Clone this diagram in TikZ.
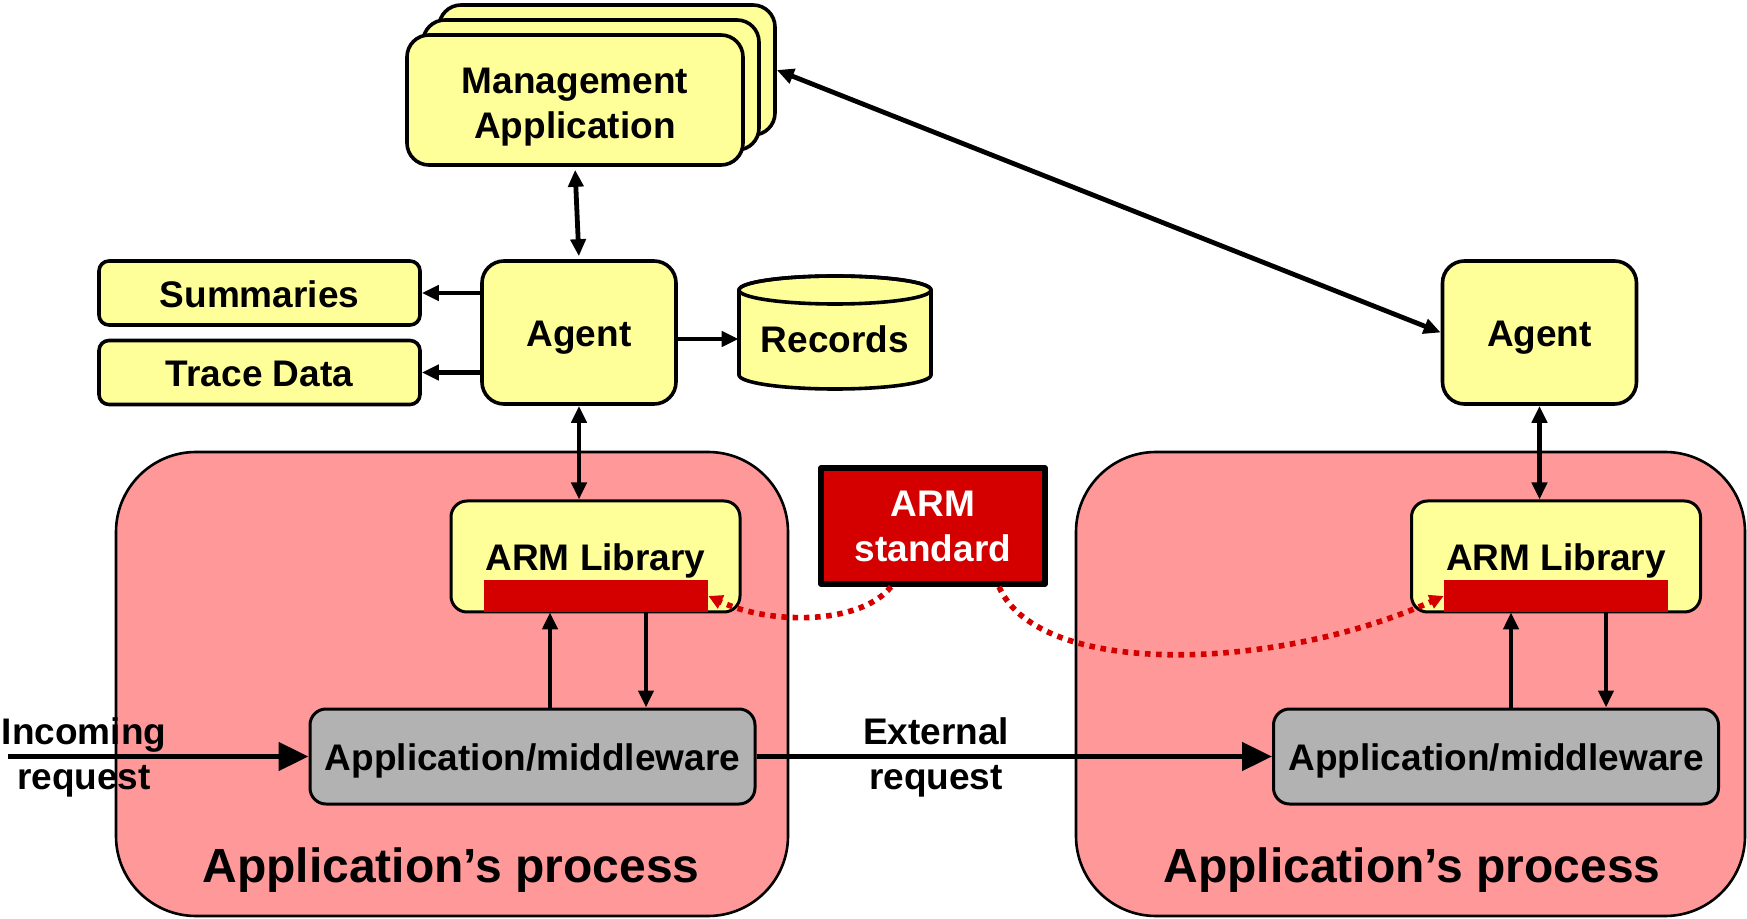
\documentclass[tikz,border=0pt]{standalone}
\usepackage{fontspec}
\setmainfont{Liberation Sans}
\usetikzlibrary{arrows.meta}
\definecolor{boxyellow}{HTML}{FFFF99}
\definecolor{procpink}{HTML}{FF9999}
\definecolor{appgray}{HTML}{B2B2B2}
\definecolor{armred}{HTML}{D40000}
\tikzset{
  basefont/.style={font=\fontsize{18.5}{22.5}\selectfont\bfseries},
  oneline/.style={text height=14.3pt, text depth=0pt},
  ybox/.style={basefont, draw, line width=1.8pt, fill=boxyellow, align=center, inner sep=0pt},
  mgmtbox/.style={ybox, rounded corners=11pt, minimum width=168pt, minimum height=65pt},
  agentbox/.style={ybox, oneline, rounded corners=11pt, minimum width=97pt, minimum height=71.5pt},
  listbox/.style={ybox, oneline, rounded corners=5pt, minimum width=160.5pt, minimum height=32pt},
  libbox/.style={ybox, oneline, line width=1.5pt, rounded corners=8pt, minimum width=144.5pt, minimum height=55.5pt},
  redbar/.style={fill=armred, inner sep=0pt, minimum width=112pt, minimum height=16pt},
  stdbox/.style={basefont, draw=black, line width=2.8pt, fill=armred, text=white, align=center,
                 inner sep=0pt, minimum width=112pt, minimum height=58pt},
  appbox/.style={basefont, oneline, draw, line width=1.5pt, fill=appgray, rounded corners=8pt,
                 inner sep=0pt, minimum width=222.5pt, minimum height=47.5pt},
  procbox/.style={draw, line width=1.3pt, fill=procpink, rounded corners=40pt,
                  minimum width=336pt, minimum height=232pt},
  ptitle/.style={font=\fontsize{24}{28}\selectfont\bfseries},
  lbl/.style={basefont, align=center, inner sep=0pt},
  conn/.style={line width=2.4pt},
  tip/.style={-{Triangle[length=8.5pt,width=7.5pt]}},
  dtip/.style={{Triangle[length=8.5pt,width=7.5pt]}-{Triangle[length=8.5pt,width=7.5pt]}},
  bigtip/.style={-{Triangle[length=15pt,width=14pt]}},
  reddot/.style={draw=armred, line width=2.8pt, dash pattern=on 2.8pt off 2.8pt,
                 -{Triangle[length=7pt,width=7pt]}},
}
\begin{document}
\begin{tikzpicture}[x=0.5pt, y=-0.5pt, line join=round]
\useasboundingbox (0,0) rectangle (1747,919);

% process areas
\node[procbox] (procL) at (452,684) {};
\node[procbox, minimum width=334.5pt] (procR) at (1410.5,684) {};
\node[ptitle] (titleL) at (451,870.5) {Application’s process};
\node[ptitle] (titleR) at (1412,870.5) {Application’s process};

% management application stack
\node[mgmtbox] (mgmtB) at (607,70) {};
\node[mgmtbox] (mgmtM) at (591,85) {};
\node[mgmtbox] (mgmtF) at (575,100) {};
\node[lbl] (mgmtText) at (575,106.7) {Management\\Application};

% agents and their outputs
\node[agentbox] (agentL) at (579,332.5) {Agent};
\node[agentbox] (agentR) at (1539.5,332.5) {Agent};
\node[listbox] (summ) at (259.5,293) {Summaries};
\node[listbox] (trace) at (259.5,372.5) {Trace Data};

% records store
\filldraw[line width=1.8pt, fill=boxyellow]
  (739,290) -- (739,375) arc[start angle=180, end angle=0, x radius=96, y radius=14]
  -- (931,290) arc[start angle=0, end angle=-180, x radius=96, y radius=14] -- cycle;
\draw[line width=1.8pt] (835,290) ellipse [x radius=96, y radius=14];
\node[basefont, inner sep=0pt, minimum width=96pt] (records) at (835,339) {Records};

% ARM libraries
\node[libbox] (libL) at (595.5,556.5) {ARM Library};
\node[redbar] (barL) at (596,596) {};
\node[libbox] (libR) at (1556,556.5) {ARM Library};
\node[redbar] (barR) at (1556,596) {};

% ARM standard
\node[stdbox] (std) at (933,526) {ARM\\standard};

% instrumented applications
\node[appbox] (appL) at (532.5,756.5) {Application/middleware};
\node[appbox] (appR) at (1496,756.5) {Application/middleware};

% request labels
\node[lbl] (inc) at (84,757) {Incoming\\request};
\node[lbl] (ext) at (936,757) {External\\request};

% connectors
\draw[conn, dtip, shorten <=1.5pt, shorten >=1.5pt] (mgmtF.south) -- (agentL.north);
\draw[conn, dtip] (mgmtB.east) -- (agentR.west);
\draw[conn, tip] (agentL.west |- summ.east) -- (summ.east);
\draw[conn, tip] (agentL.west |- trace.east) -- (trace.east);
\draw[conn, tip] (agentL.east |- records.west) -- (records.west);
\draw[conn, dtip] (agentL.south) -- (agentL.south |- libL.north);
\draw[conn, dtip] (agentR.south) -- (agentR.south |- libR.north);

\draw[conn, tip] ([xshift=-23pt]barL.south |- appL.north) -- ([xshift=-23pt]barL.south);
\draw[conn, tip] ([xshift=25pt]barL.south) -- ([xshift=25pt]barL.south |- appL.north);
\draw[conn, tip] ([xshift=-22.5pt]barR.south |- appR.north) -- ([xshift=-22.5pt]barR.south);
\draw[conn, tip] ([xshift=25pt]barR.south) -- ([xshift=25pt]barR.south |- appR.north);

\coordinate (src) at (8,756.5);
\draw[conn, bigtip] (src) -- (appL.west);
\draw[conn, bigtip] (appL.east) -- (appR.west);

% ARM standard applies to both libraries
\draw[reddot] ([xshift=-21pt]std.south) .. controls (860,625) and (770,625) .. (barL.east);
\draw[reddot] ([xshift=33pt]std.south) .. controls (1040,680) and (1280,670) .. (barR.west);
\end{tikzpicture}
\end{document}
